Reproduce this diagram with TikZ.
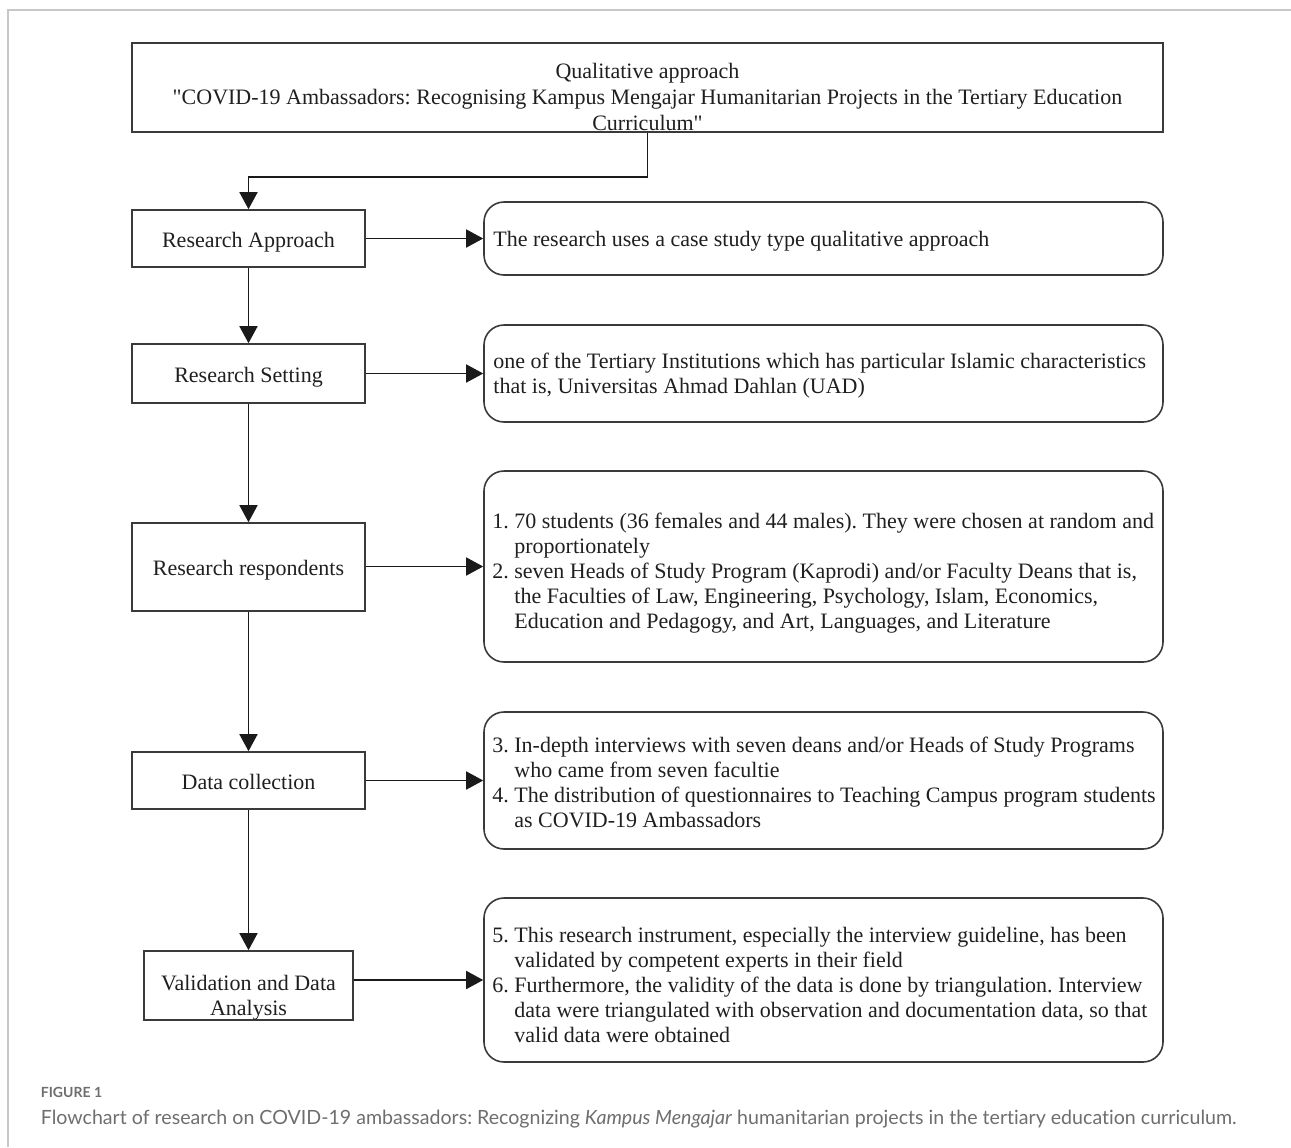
\documentclass[tikz,border=0pt]{standalone}
\usepackage{fontspec}
\setmainfont{Liberation Serif}[Ligatures=TeXOff]
\newfontfamily\capfont{Lato}[Ligatures=NoCommon]
\usetikzlibrary{arrows.meta}
\frenchspacing
\definecolor{boxline}{HTML}{3A3A3A}
\definecolor{arrowc}{HTML}{1A1A1A}
\definecolor{framegray}{HTML}{C8C8C8}
\definecolor{capgray}{HTML}{6E6E6E}
\definecolor{inkc}{HTML}{1F1F1F}
\begin{document}
\begin{tikzpicture}[x=0.5pt,y=-0.5pt,
  every node/.style={font=\fontsize{11pt}{12.6pt}\selectfont, text=inkc},
  sqbox/.style={draw=boxline, line width=0.8pt, rectangle, inner sep=0pt, align=center, text height=8.5pt, text depth=0pt},
  rbox/.style={draw=boxline, line width=0.8pt, rectangle, rounded corners=10pt, inner sep=0pt},
  txt/.style={inner sep=0pt, anchor=base west},
  ctxt/.style={inner sep=0pt, anchor=base},
  conn/.style={draw=arrowc, line width=0.8pt, -{Triangle[length=8.5pt,width=9pt]}},
]
\useasboundingbox (0,0) rectangle (1291,1147);
% frame
\draw[framegray, line width=1pt] (7.5,1147) -- (7.5,10) -- (1291,10);

% title
\node[sqbox, minimum width=515.5pt, minimum height=44.5pt] (title) at (647.5,87.5) {};
\node[ctxt] (titletext) at (647.5,78) {\fontsize{11pt}{13pt}\selectfont\begin{tabular}[t]{@{}c@{}}Qualitative approach\\ "COVID-19 Ambassadors: Recognising Kampus Mengajar Humanitarian Projects in the Tertiary Education\\ Curriculum"\end{tabular}};

% left column
\node[sqbox, minimum width=116.5pt, minimum height=28.5pt] (ra) at (248.5,238.5) {Research Approach};
\node[sqbox, minimum width=116.5pt, minimum height=29.5pt] (rs) at (248.5,373.5) {Research Setting};
\node[sqbox, minimum width=116.5pt, minimum height=44pt] (rr) at (248.5,567) {Research respondents};
\node[sqbox, minimum width=116.5pt, minimum height=28.5pt] (dc) at (248.5,780.5) {Data collection};
\node[sqbox, minimum width=104.5pt, minimum height=34.5pt] (vd) at (248.5,985.5) {};
\node[ctxt] (vdtext) at (248.5,990) {\begin{tabular}[t]{@{}c@{}}Validation and Data\\ Analysis\end{tabular}};

% right column boxes
\node[rbox, minimum width=339.5pt, minimum height=36.5pt] (r1) at (823.5,238.5) {};
\node[rbox, minimum width=339.5pt, minimum height=48.5pt] (r2) at (823.5,373.5) {};
\node[rbox, minimum width=339.5pt, minimum height=95.5pt] (r3) at (823.5,566.5) {};
\node[rbox, minimum width=339.5pt, minimum height=68.5pt] (r4) at (823.5,780.5) {};
\node[rbox, minimum width=339.5pt, minimum height=82pt] (r5) at (823.5,980) {};

% right column texts
\node[txt] (t1) at (493,246.7) {The research uses a case study type qualitative approach};
\node[txt] (t2) at (493,368) {\begin{tabular}[t]{@{}l@{}}one of the Tertiary Institutions which has particular Islamic characteristics\\ that is, Universitas Ahmad Dahlan (UAD)\end{tabular}};
\node[txt] (t3) at (492,528) {\begin{tabular}[t]{@{}l@{}l@{}}\makebox[11pt][l]{1.} & 70 students (36 females and 44 males). They were chosen at random and\\
 & proportionately\\
\makebox[11pt][l]{2.} & seven Heads of Study Program (Kaprodi) and/or Faculty Deans that is,\\
 & the Faculties of Law, Engineering, Psychology, Islam, Economics,\\
 & Education and Pedagogy, and Art, Languages, and Literature\end{tabular}};
\node[txt] (t4) at (492,752) {\begin{tabular}[t]{@{}l@{}l@{}}\makebox[11pt][l]{3.} & In-depth interviews with seven deans and/or Heads of Study Programs\\
 & who came from seven facultie\\
\makebox[11pt][l]{4.} & The distribution of questionnaires to Teaching Campus program students\\
 & as COVID-19 Ambassadors\end{tabular}};
\node[txt] (t5) at (492,942) {\begin{tabular}[t]{@{}l@{}l@{}}\makebox[11pt][l]{5.} & This research instrument, especially the interview guideline, has been\\
 & validated by competent experts in their field\\
\makebox[11pt][l]{6.} & Furthermore, the validity of the data is done by triangulation. Interview\\
 & data were triangulated with observation and documentation data, so that\\
 & valid data were obtained\end{tabular}};

% connectors
\coordinate (bend) at (647.5,177);
\draw[conn] (title.south) -- (bend) -| (ra.north);
\draw[conn] (ra.south) -- (rs.north);
\draw[conn] (rs.south) -- (rr.north);
\draw[conn] (rr.south) -- (dc.north);
\draw[conn] (dc.south) -- (vd.north);
\draw[conn] (r1.west -| ra.east) -- (r1.west);
\draw[conn] (r2.west -| rs.east) -- (r2.west);
\draw[conn] (r3.west -| rr.east) -- (r3.west);
\draw[conn] (r4.west -| dc.east) -- (r4.west);
\draw[conn] (r5.west -| vd.east) -- (r5.west);

% caption
\node[txt, font=\capfont\bfseries\fontsize{7pt}{8pt}\selectfont, text=capgray] (figlabel) at (40.5,1097) {FIGURE 1};
\node[txt, font=\capfont\fontsize{9.8pt}{11pt}\selectfont, text=capgray] (caption) at (40.5,1124) {Flowchart of research on COVID-19 ambassadors: Recognizing \textit{Kampus Mengajar} humanitarian projects in the tertiary education curriculum.};
\end{tikzpicture}
\end{document}
